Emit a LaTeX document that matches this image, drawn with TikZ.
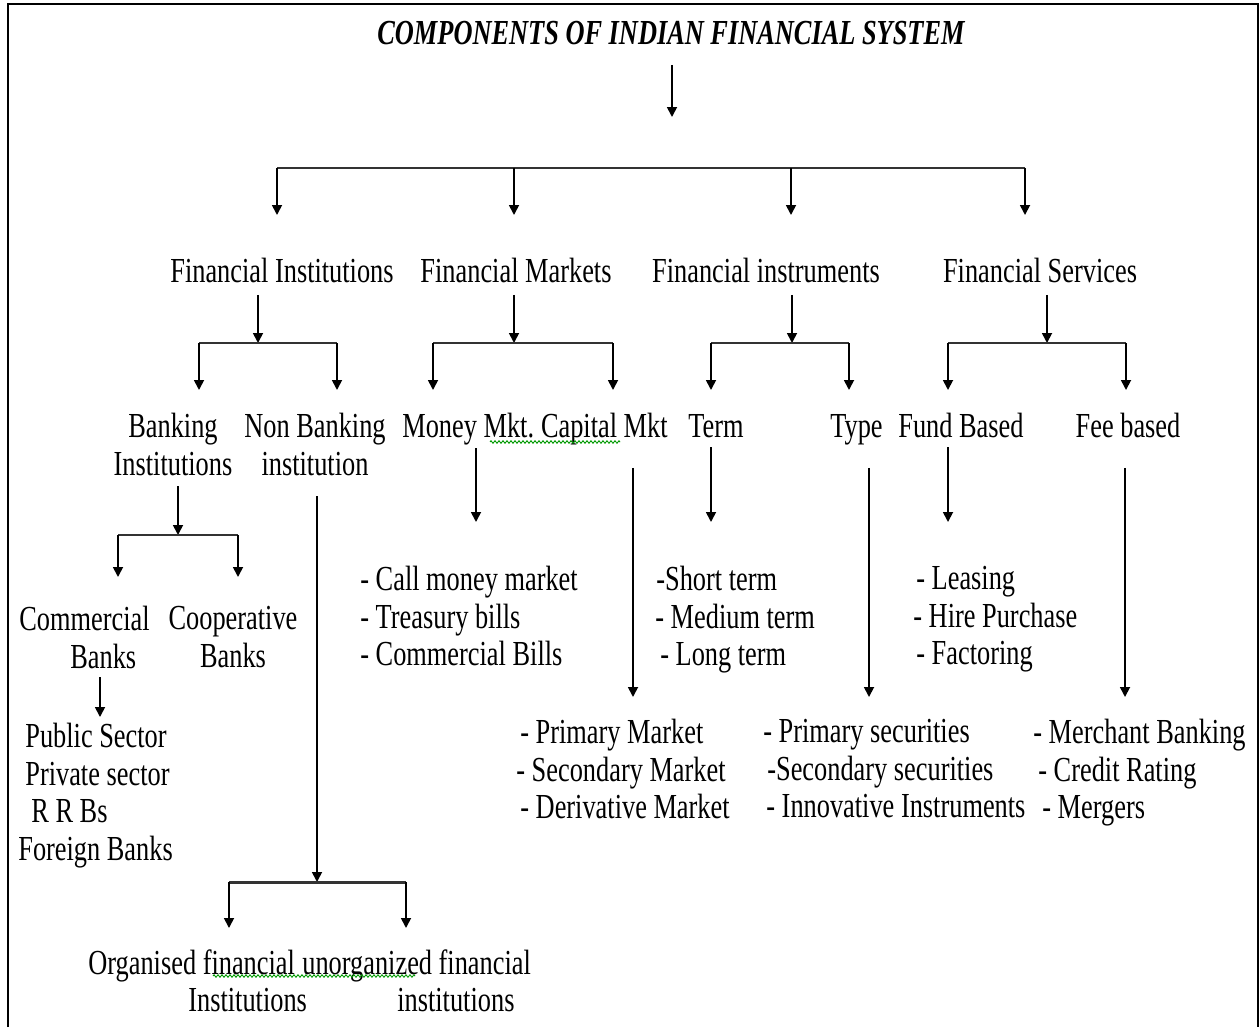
\documentclass[tikz,border=0pt]{standalone}
\usepackage{fontspec}
\setmainfont{Liberation Serif}[FakeStretch=0.75]
\usetikzlibrary{arrows.meta, decorations.pathmorphing}
\newcommand{\chartfont}{\fontsize{20}{21.4}\selectfont}

\begin{document}
\begin{tikzpicture}[x=0.02cm, y=-0.02cm, font=\chartfont,
  lbl/.style={inner sep=0pt},
  arr/.style={line width=1pt, -{Triangle[length=0.2cm, width=0.2cm]}},
  bar/.style={line width=1.7pt, black!80},
  squiggle/.style={green!60!black, line width=0.5pt, decorate,
    decoration={zigzag, amplitude=0.025cm, segment length=0.08cm}}]
  \useasboundingbox (0,0) rectangle (1260,1027);
  \draw[line width=0.05cm] (8,1027) -- (8,4) -- (1258,4) -- (1258,1027);

  % title and first level
  \node[lbl, anchor=base, font=\chartfont\bfseries\itshape] (title) at (671,45) {COMPONENTS OF INDIAN FINANCIAL SYSTEM};
  \node[lbl, anchor=base] (fi) at (282,282) {Financial Institutions};
  \node[lbl, anchor=base] (fm) at (516,282) {Financial Markets};
  \node[lbl, anchor=base] (fin) at (766,282) {Financial instruments};
  \node[lbl, anchor=base] (fs) at (1040,282) {Financial Services};

  % second level
  \node[lbl, anchor=north, align=center] (bi) at (173,413) {Banking\\Institutions};
  \node[lbl, anchor=north, align=center] (nbi) at (315,413) {Non Banking\\institution};
  \node[lbl, anchor=base west] (mm) at (402,437) {Money Mkt.};
  \node[lbl, anchor=base east] (cm) at (668,437) {Capital Mkt};
  \node[lbl, anchor=base west] (term) at (688,437) {Term};
  \node[lbl, anchor=base east] (type) at (883,437) {Type};
  \node[lbl, anchor=base west] (fb) at (898,437) {Fund Based};
  \node[lbl, anchor=base] (fee) at (1128,437) {Fee based};

  % banks
  \node[lbl, anchor=north west, align=left] (cb) at (19,606) {Commercial\\\hspace*{1.02cm}Banks};
  \node[lbl, anchor=north, align=center] (coop) at (233,606) {Cooperative\\Banks};
  \node[lbl, anchor=north west, align=left] (pub) at (18,723)
    {\hspace*{0.14cm}Public Sector\\\hspace*{0.14cm}Private sector\\\hspace*{0.26cm}R R Bs\\Foreign Banks};
  \node[lbl, anchor=north west, align=left] (org) at (88,949) {Organised financial\\\hspace*{2cm}Institutions};
  \node[lbl, anchor=north west, align=left] (unorg) at (302,949) {unorganized financial\\\hspace*{1.9cm}institutions};

  % lists
  \node[lbl, anchor=north west, align=left] (moneylist) at (360,566)
    {- Call money market\\- Treasury bills\\- Commercial Bills};
  \node[lbl, anchor=north west, align=left] (capitallist) at (516,719)
    {\hspace*{0.08cm}- Primary Market\\- Secondary Market\\\hspace*{0.08cm}- Derivative Market};
  \node[lbl, anchor=north west, align=left] (termlist) at (655,566)
    {\hspace*{0.02cm}-Short term\\- Medium term\\\hspace*{0.1cm}- Long term};
  \node[lbl, anchor=north west, align=left] (typelist) at (763,719)
    {- Primary securities\\\hspace*{0.08cm}-Secondary securities\\\hspace*{0.06cm}- Innovative Instruments};
  \node[lbl, anchor=north west, align=left] (fundlist) at (913,566)
    {\hspace*{0.06cm}- Leasing\\- Hire Purchase\\\hspace*{0.06cm}- Factoring};
  \node[lbl, anchor=north west, align=left] (feelist) at (1033,719)
    {- Merchant Banking\\\hspace*{0.1cm}- Credit Rating\\\hspace*{0.18cm}- Mergers};

  % spelling marks
  \draw[squiggle] (490,442) -- (620,442);
  \draw[squiggle] (213,976) -- (415,976);

  % connectors, level 1
  \coordinate (top) at (672,117);
  \draw[arr, shorten <=0.4cm] (title.base -| top) -- (top);
  \coordinate (bar1) at (0,168);
  \coordinate (fi-in) at (277,215);
  \coordinate (fm-in) at (514,215);
  \coordinate (fin-in) at (791,215);
  \coordinate (fs-in) at (1025,215);
  \draw[bar] (fi-in |- bar1) -- (fs-in |- bar1);
  \foreach \k in {fi,fm,fin,fs}
    \draw[arr] (\k-in |- bar1) -- (\k-in);

  % connectors, level 2
  \coordinate (fi-out) at (258,343);
  \coordinate (bi-in) at (199,390);
  \coordinate (nbi-in) at (337,390);
  \coordinate (fm-out) at (514,343);
  \coordinate (mm-in) at (433,390);
  \coordinate (cm-in) at (613,390);
  \coordinate (fin-out) at (792,343);
  \coordinate (term-in) at (711,390);
  \coordinate (type-in) at (849,390);
  \coordinate (fs-out) at (1047,343);
  \coordinate (fb-in) at (948,390);
  \coordinate (fee-in) at (1126,390);
  \foreach \p/\a/\b in {fi/bi/nbi, fm/mm/cm, fin/term/type, fs/fb/fee} {
    \draw[arr, shorten <=0.26cm] (\p.base -| \p-out) -- (\p-out);
    \draw[bar] (\a-in |- \p-out) -- (\b-in |- \p-out);
    \draw[arr] (\a-in |- \p-out) -- (\a-in);
    \draw[arr] (\b-in |- \p-out) -- (\b-in);
  }

  % connectors, level 3
  \coordinate (bi-out) at (178,535);
  \coordinate (cb-in) at (118,577);
  \coordinate (coop-in) at (238,577);
  \draw[arr, shorten <=0.2cm] (bi.south -| bi-out) -- (bi-out);
  \draw[bar] (cb-in |- bi-out) -- (coop-in |- bi-out);
  \draw[arr] (cb-in |- bi-out) -- (cb-in);
  \draw[arr] (coop-in |- bi-out) -- (coop-in);

  \coordinate (nbi-out) at (317,882);
  \coordinate (org-in) at (229,928);
  \coordinate (unorg-in) at (406,928);
  \draw[arr, shorten <=0.4cm] (nbi.south -| nbi-out) -- (nbi-out);
  \draw[bar] (org-in |- nbi-out) -- (unorg-in |- nbi-out);
  \draw[arr] (org-in |- nbi-out) -- (org-in);
  \draw[arr] (unorg-in |- nbi-out) -- (unorg-in);

  \coordinate (pub-in) at (100,717);
  \draw[arr, shorten <=0.16cm] (cb.south -| pub-in) -- (pub-in);

  \coordinate (moneylist-in) at (476,522);
  \coordinate (capitallist-in) at (633,697);
  \coordinate (termlist-in) at (711,522);
  \coordinate (typelist-in) at (869,697);
  \coordinate (fundlist-in) at (948,522);
  \coordinate (feelist-in) at (1125,697);
  \draw[arr, shorten <=0.22cm] (mm.base -| moneylist-in) -- (moneylist-in);
  \draw[arr, shorten <=0.62cm] (cm.base -| capitallist-in) -- (capitallist-in);
  \draw[arr, shorten <=0.2cm] (term.base -| termlist-in) -- (termlist-in);
  \draw[arr, shorten <=0.62cm] (type.base -| typelist-in) -- (typelist-in);
  \draw[arr, shorten <=0.2cm] (fb.base -| fundlist-in) -- (fundlist-in);
  \draw[arr, shorten <=0.62cm] (fee.base -| feelist-in) -- (feelist-in);
\end{tikzpicture}
\end{document}
